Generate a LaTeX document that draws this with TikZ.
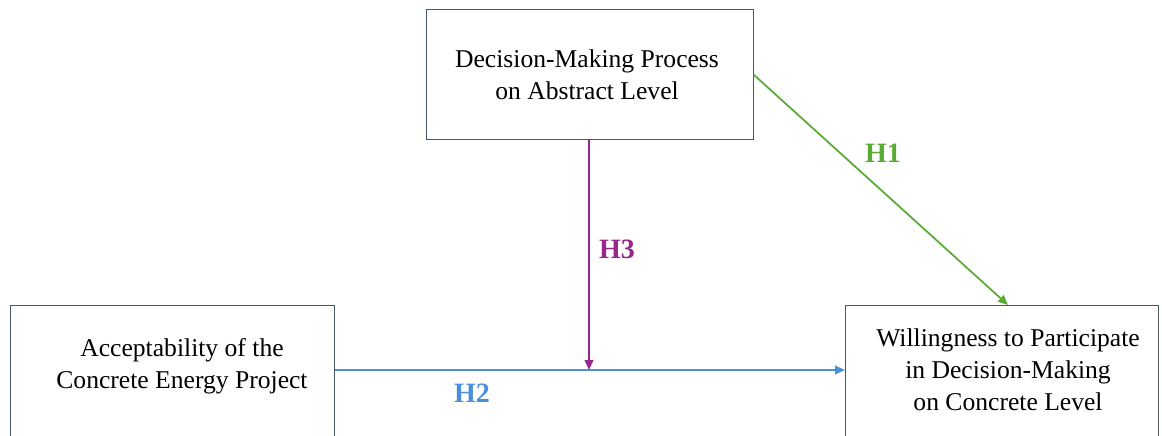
\documentclass[tikz,border=0pt]{standalone}
\usepackage{fontspec}
\setmainfont{Liberation Serif}
\usetikzlibrary{arrows.meta, positioning}
\definecolor{boxline}{RGB}{70,88,104}
\definecolor{hgreen}{RGB}{88,170,52}
\definecolor{hpurple}{RGB}{152,38,140}
\definecolor{hblue}{RGB}{74,144,217}

\begin{document}
\begin{tikzpicture}[x=0.75pt, y=-0.75pt, >={Triangle[length=7.5pt, width=6.5pt]},
    frame/.style={draw=boxline, line width=0.75pt, inner sep=0pt},
    boxtext/.style={align=center, font=\fontsize{19.2}{24}\selectfont},
    hlabel/.style={font=\fontsize{21}{24}\selectfont\bfseries},
    link/.style={->, line width=1.3pt}]

\useasboundingbox (0,0) rectangle (1162,435);
\clip (0,0) rectangle (1162,435);

% ── boxes ─────────────────────────────────────────────
\node[frame, minimum width=245.25pt, minimum height=96.75pt] (abstract) at (589.5,74.5) {};
\node[frame, anchor=north west, minimum width=243pt, minimum height=150pt] (accept) at (10,305) {};
\node[frame, anchor=north west, minimum width=234.75pt, minimum height=150pt] (willing) at (845,305) {};

\node[boxtext] (abstracttxt) at (587,75) {Decision-Making Process\\on Abstract Level};
\node[boxtext] (accepttxt) at (182,366) {Acceptability of the\\Concrete Energy Project};
\node[boxtext] (willingtxt) at (1008,370) {Willingness to Participate\\in Decision-Making\\on Concrete Level};

% meeting point of H3 on the H2 path
\coordinate (mid) at (589,370);

% ── hypotheses ────────────────────────────────────────
\draw[link, hgreen] (abstract.east) -- ([xshift=4.5pt]willing.north);
\draw[link, hblue] (mid -| accept.east) -- (mid -| willing.west);
\draw[link, hpurple] (abstract.south -| mid) -- (mid);

\node[hlabel, text=hgreen] (h1) at (883,153) {H1};
\node[hlabel, text=hblue] (h2) at (472,393) {H2};
\node[hlabel, text=hpurple] (h3) at (617,249) {H3};

\end{tikzpicture}
\end{document}
